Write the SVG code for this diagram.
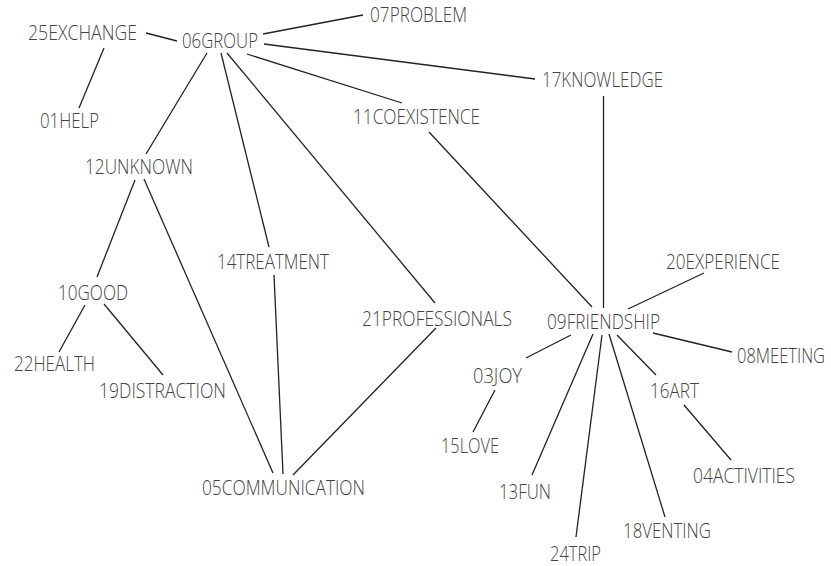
<svg xmlns="http://www.w3.org/2000/svg" width="831" height="566" viewBox="0 0 831 566">
<style>
text{font-family:"Open Sans","Noto Sans","Liberation Sans",sans-serif;font-weight:350;font-size:20px;fill:#444}
#edges line{stroke:#222;stroke-width:1.3;stroke-linecap:butt}
</style>
<rect width="831" height="566" fill="#fff"/>
<g id="edges">
<line x1="146" y1="33" x2="177" y2="41"/>
<line x1="104" y1="48" x2="79" y2="108"/>
<line x1="263" y1="34" x2="363" y2="15"/>
<line x1="264" y1="44" x2="535" y2="79"/>
<line x1="247" y1="54" x2="402" y2="103"/>
<line x1="207" y1="53" x2="146" y2="154"/>
<line x1="221" y1="53" x2="269" y2="247"/>
<line x1="227" y1="53" x2="435" y2="303"/>
<line x1="603.5" y1="96" x2="603.5" y2="308"/>
<line x1="429" y1="132" x2="592" y2="307"/>
<line x1="135" y1="180" x2="97" y2="277"/>
<line x1="144" y1="179" x2="273" y2="473"/>
<line x1="274" y1="275" x2="283" y2="474"/>
<line x1="436" y1="328" x2="293" y2="475"/>
<line x1="85" y1="305" x2="59" y2="352"/>
<line x1="104" y1="304" x2="163" y2="375"/>
<line x1="571" y1="335" x2="526" y2="358"/>
<line x1="495" y1="390" x2="473" y2="432"/>
<line x1="628" y1="309" x2="704" y2="273"/>
<line x1="653" y1="333" x2="732" y2="352"/>
<line x1="617" y1="335" x2="656" y2="375"/>
<line x1="684" y1="405" x2="731" y2="460"/>
<line x1="593" y1="334" x2="532" y2="475"/>
<line x1="602" y1="335" x2="576" y2="537"/>
<line x1="609" y1="334" x2="665" y2="517"/>
</g>
<g id="n25"><text x="28" y="40" textLength="109" lengthAdjust="spacingAndGlyphs">25EXCHANGE</text></g>
<g id="n06"><text x="182" y="48" textLength="76" lengthAdjust="spacingAndGlyphs">06GROUP</text></g>
<g id="n01"><text x="40" y="128" textLength="59" lengthAdjust="spacingAndGlyphs">01HELP</text></g>
<g id="n07"><text x="370" y="22" textLength="97" lengthAdjust="spacingAndGlyphs">07PROBLEM</text></g>
<g id="n17"><text x="542" y="87" textLength="121" lengthAdjust="spacingAndGlyphs">17KNOWLEDGE</text></g>
<g id="n11"><text x="353" y="124" textLength="127" lengthAdjust="spacingAndGlyphs">11COEXISTENCE</text></g>
<g id="n12"><text x="85" y="174" textLength="108" lengthAdjust="spacingAndGlyphs">12UNKNOWN</text></g>
<g id="n14"><text x="217" y="269" textLength="112" lengthAdjust="spacingAndGlyphs">14TREATMENT</text></g>
<g id="n10"><text x="58" y="300" textLength="70" lengthAdjust="spacingAndGlyphs">10GOOD</text></g>
<g id="n22"><text x="14" y="371" textLength="81" lengthAdjust="spacingAndGlyphs">22HEALTH</text></g>
<g id="n19"><text x="99" y="398" textLength="127" lengthAdjust="spacingAndGlyphs">19DISTRACTION</text></g>
<g id="n21"><text x="362" y="326" textLength="150" lengthAdjust="spacingAndGlyphs">21PROFESSIONALS</text></g>
<g id="n05"><text x="202" y="495" textLength="163" lengthAdjust="spacingAndGlyphs">05COMMUNICATION</text></g>
<g id="n03"><text x="473" y="383" textLength="49" lengthAdjust="spacingAndGlyphs">03JOY</text></g>
<g id="n15"><text x="441" y="453" textLength="58" lengthAdjust="spacingAndGlyphs">15LOVE</text></g>
<g id="n20"><text x="666" y="269" textLength="114" lengthAdjust="spacingAndGlyphs">20EXPERIENCE</text></g>
<g id="n09"><text x="547" y="329" textLength="113" lengthAdjust="spacingAndGlyphs">09FRIENDSHIP</text></g>
<g id="n08"><text x="737" y="363" font-size="18.5" textLength="88" lengthAdjust="spacingAndGlyphs">08MEETING</text></g>
<g id="n16"><text x="650" y="398" textLength="49" lengthAdjust="spacingAndGlyphs">16ART</text></g>
<g id="n04"><text x="693" y="483" textLength="102" lengthAdjust="spacingAndGlyphs">04ACTIVITIES</text></g>
<g id="n13"><text x="499" y="499" textLength="52" lengthAdjust="spacingAndGlyphs">13FUN</text></g>
<g id="n24"><text x="550" y="561" textLength="51" lengthAdjust="spacingAndGlyphs">24TRIP</text></g>
<g id="n18"><text x="623" y="538" textLength="88" lengthAdjust="spacingAndGlyphs">18VENTING</text></g>
</svg>
